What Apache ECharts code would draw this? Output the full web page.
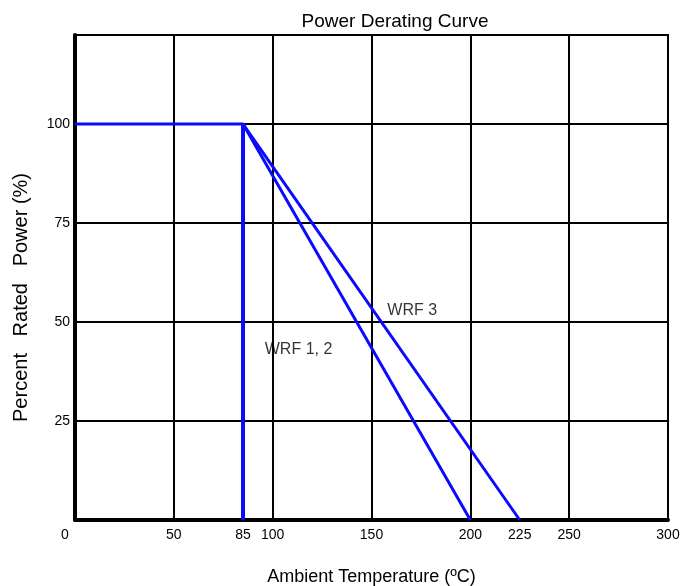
<!DOCTYPE html>
<html>
<head>
<meta charset="utf-8">
<script src="https://cdn.jsdelivr.net/npm/echarts@6/dist/echarts.min.js"></script>
<style>
html,body{margin:0;padding:0;background:#fff;}
#c{width:683px;height:586px;}
</style>
</head>
<body>
<div id="c"></div>
<script>
const xTickLabels = [0, 50, 85, 100, 150, 200, 225, 250, 300];
const yTickLabels = [25, 50, 75, 100];
const wrf12 = [[0, 100], [85, 100], [200, 0]];
const wrf3 = [[85, 100], [225, 0]];
const cutoff = [[85, 100], [85, 0]];
const labelPoints = [
  { name: 'WRF 1, 2', value: [96, 43] },
  { name: 'WRF 3', value: [158, 53] }
];

const FONT = '"Liberation Sans", Arial, Helvetica, sans-serif';
const BLUE = '#0a0aff';

const chart = echarts.init(document.getElementById('c'), null, { renderer: 'canvas' });
chart.setOption({
  animation: false,
  backgroundColor: '#fff',
  title: {
    text: 'Power Derating Curve',
    left: 390, top: 7, textAlign: 'center',
    textStyle: { fontFamily: FONT, fontWeight: 'normal', fontSize: 19, color: '#000' }
  },
  grid: {
    left: 75, right: 15, top: 35, bottom: 66,
    outerBoundsMode: 'none', containLabel: false,
    show: true, borderColor: '#000', borderWidth: 2, backgroundColor: 'transparent'
  },
  xAxis: {
    type: 'value', min: 0, max: 300, interval: 50,
    name: 'Ambient Temperature (ºC)', nameLocation: 'middle', nameGap: 48,
    nameTextStyle: { fontFamily: FONT, fontSize: 18, color: '#000' },
    axisLine: { show: true, lineStyle: { color: '#000', width: 4 } },
    axisTick: { show: false },
    splitLine: { show: true, lineStyle: { color: '#000', width: 2 } },
    axisLabel: {
      customValues: xTickLabels,
      fontFamily: FONT, fontSize: 14, color: '#000', margin: 8,
      formatter: v => v === 0 ? '{z|0}' : String(v),
      rich: { z: { padding: [0, 20, 0, 0], fontFamily: FONT, fontSize: 14, color: '#000' } }
    }
  },
  yAxis: {
    type: 'value', min: 0, max: 122.5, interval: 25,
    name: 'Percent   Rated   Power (%)', nameLocation: 'middle', nameGap: 44,
    nameTextStyle: { fontFamily: FONT, fontSize: 20, color: '#000', padding: [0, 40, 0, 0] },
    axisLine: { show: true, lineStyle: { color: '#000', width: 4 } },
    axisTick: { show: false },
    splitLine: { show: true, lineStyle: { color: '#000', width: 2 } },
    axisLabel: {
      customValues: yTickLabels,
      fontFamily: FONT, fontSize: 14, color: '#000', margin: 5
    }
  },
  series: [
    { type: 'line', data: wrf12, symbol: 'none', lineStyle: { color: BLUE, width: 3 }, z: 5 },
    { type: 'line', data: wrf3, symbol: 'none', lineStyle: { color: BLUE, width: 3 }, z: 5 },
    { type: 'line', data: cutoff, symbol: 'none', lineStyle: { color: BLUE, width: 4 }, z: 5 },
    {
      type: 'scatter', data: labelPoints, symbolSize: 0, z: 6,
      label: {
        show: true, position: 'right', distance: 0,
        formatter: p => p.name,
        fontFamily: FONT, fontSize: 16, color: '#000', textBorderWidth: 0
      }
    }
  ]
});
</script>
</body>
</html>
